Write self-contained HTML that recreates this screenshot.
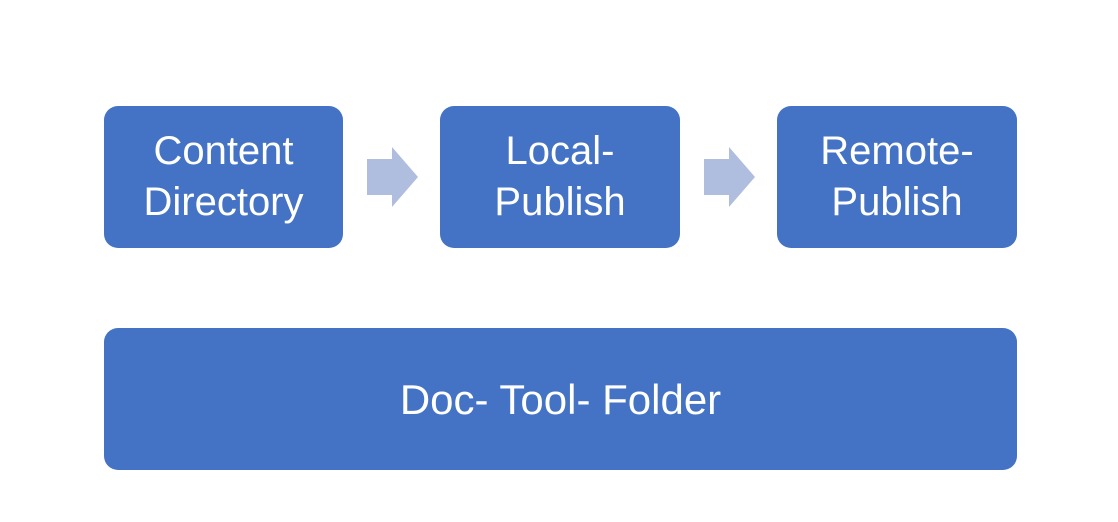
<!DOCTYPE html>
<html><head><style>
body{margin:0;width:1118px;height:522px;background:#fff;position:relative;overflow:hidden;font-family:"Liberation Sans",sans-serif}
.b{position:absolute;background:#4472C4;border-radius:14px;color:#fff;display:flex;align-items:center;justify-content:center;text-align:center;font-size:40px;line-height:51px}
svg{position:absolute;left:0;top:0}
</style></head><body>
<div class="b" style="left:104px;top:106px;width:239px;height:142px">Content<br>Directory</div>
<div class="b" style="left:440px;top:106px;width:240px;height:142px">Local-<br>Publish</div>
<div class="b" style="left:777px;top:106px;width:240px;height:142px">Remote-<br>Publish</div>
<div class="b" style="left:104px;top:328px;width:913px;height:142px;font-size:42px">Doc- Tool- Folder</div>
<svg width="1118" height="522">
<polygon points="367,159 392,159 392,147 418,177 392,207 392,195 367,195" fill="#AFBDDF"/>
<polygon points="704,159 729,159 729,147 755,177 729,207 729,195 704,195" fill="#AFBDDF"/>
</svg>
</body></html>
